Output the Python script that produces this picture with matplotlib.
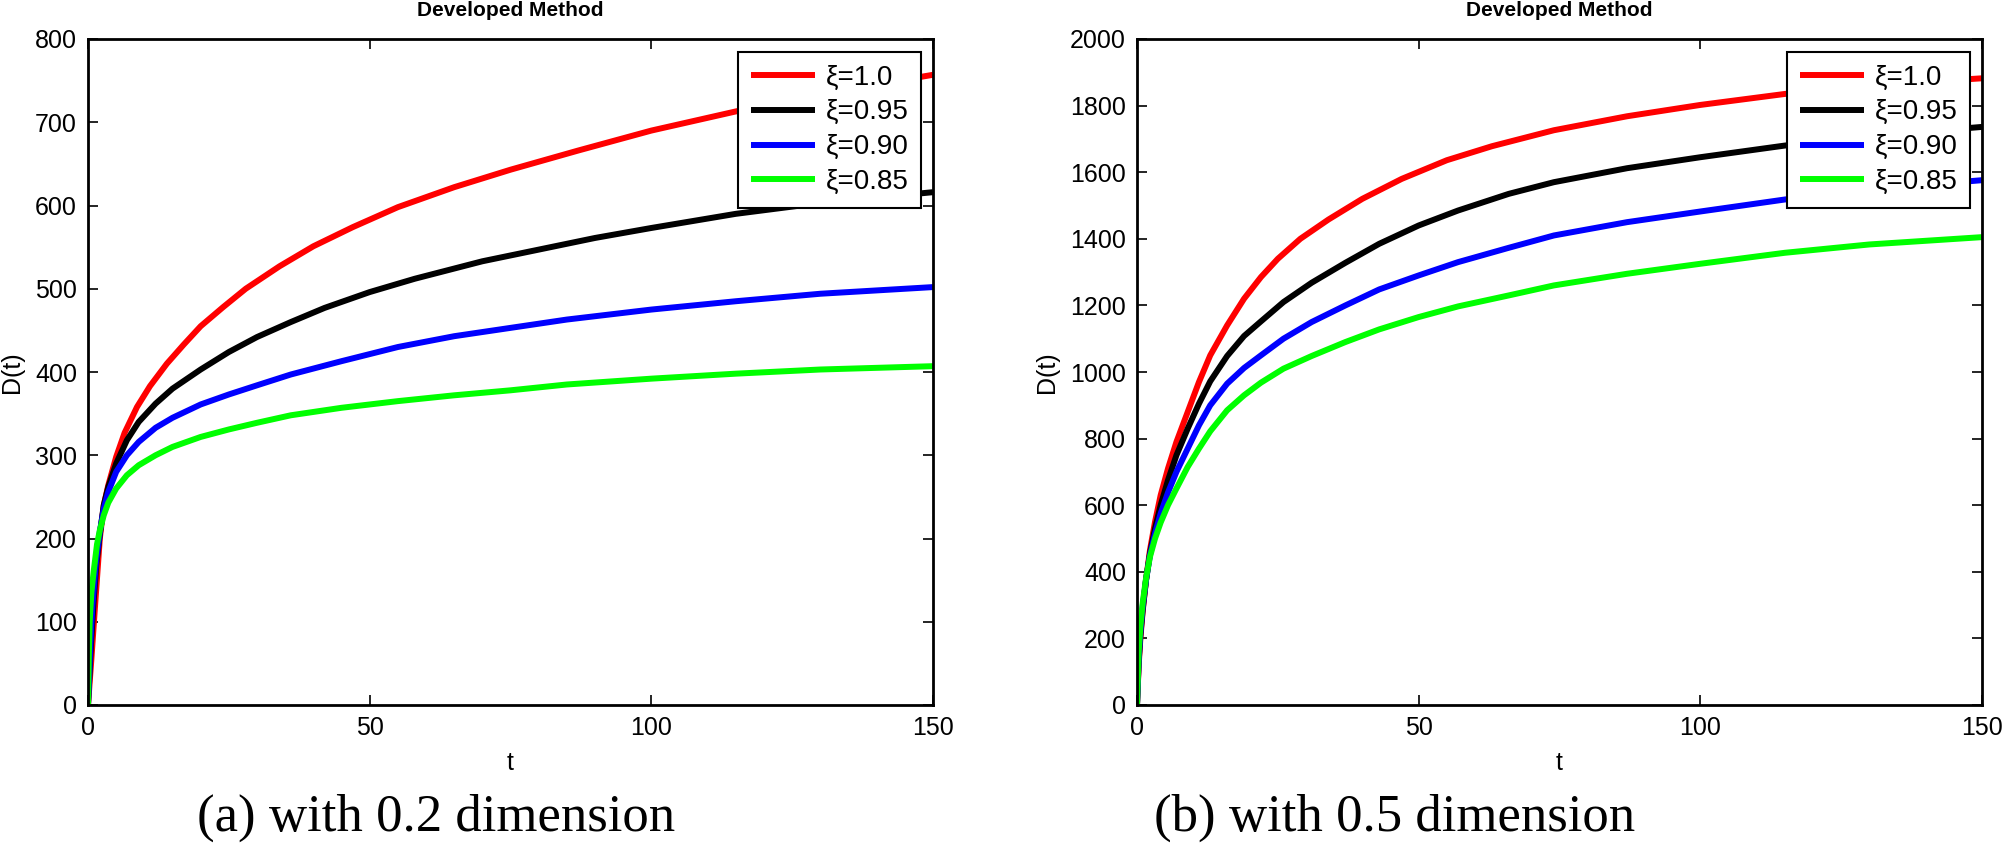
import matplotlib
matplotlib.use("Agg")
import matplotlib.pyplot as plt

# series: (t, D(t)) for each xi
labels = ['\u03be=1.0', '\u03be=0.95', '\u03be=0.90', '\u03be=0.85']
colors = ['#ff0000', '#000000', '#0000ff', '#00ff00']

# (a) with 0.2 dimension
t_red_a = [0, 0.6, 1.2, 2.1, 2.8, 3.6, 5, 6.5, 8.7, 11, 14, 17, 20, 24, 28, 34, 40, 47, 55,
           65, 75, 87, 100, 115, 130, 150]
d_red_a = [0, 55, 114, 200, 240, 264, 298, 327, 358, 383, 410, 433, 455, 478, 500, 527, 551,
           574, 598, 622, 643, 666, 690, 713, 734, 757]
t_blk_a = [0, 0.5, 1, 1.5, 2.1, 2.8, 3.6, 5, 6.9, 9, 12, 15, 20, 25, 30, 36, 42, 50, 58,
           70, 80, 90, 100, 115, 130, 150]
d_blk_a = [0, 70, 125, 170, 205, 240, 262, 290, 318, 340, 362, 380, 403, 424, 442, 460, 477,
           496, 512, 533, 547, 561, 573, 590, 603, 616]
t_blu_a = [0, 0.4, 0.8, 1.4, 2.1, 2.8, 3.6, 5, 6.9, 9, 12, 15, 20, 25, 30, 36, 45, 55, 65,
           75, 85, 100, 115, 130, 150]
d_blu_a = [0, 70, 120, 170, 208, 236, 256, 280, 300, 316, 333, 345, 361, 373, 384, 397, 413,
           430, 443, 453, 463, 475, 485, 494, 502]
t_grn_a = [0, 0.15, 0.3, 0.6, 1, 1.6, 2.1, 2.8, 3.6, 5, 6.9, 9, 12, 15, 20, 25, 30, 36, 45,
           55, 65, 75, 85, 100, 115, 130, 150]
d_grn_a = [0, 60, 100, 135, 160, 193, 210, 228, 243, 260, 276, 288, 300, 310, 322, 331, 339,
           348, 357, 365, 372, 378, 385, 392, 398, 403, 407]

# (b) with 0.5 dimension
t_red_b = [0, 0.3, 0.6, 1, 1.6, 2.3, 3.2, 4.2, 5.5, 7, 9, 11, 13, 16, 19, 22, 25, 29, 34, 40,
           47, 55, 63, 74, 87, 100, 115, 130, 150]
d_red_b = [0, 120, 200, 280, 375, 465, 550, 630, 710, 790, 880, 970, 1050, 1140, 1220, 1285,
           1340, 1400, 1458, 1520, 1580, 1636, 1678, 1726, 1768, 1802, 1835, 1860, 1882]
t_blk_b = [0, 0.3, 0.6, 1, 1.6, 2.3, 3.2, 4.2, 5.5, 7, 9, 11, 13, 16, 19, 22, 26, 31, 37, 43,
           50, 57, 66, 74, 87, 100, 115, 130, 150]
d_blk_b = [0, 130, 210, 285, 375, 455, 530, 600, 675, 750, 830, 905, 972, 1048, 1108, 1152,
           1210, 1268, 1328, 1385, 1440, 1485, 1535, 1570, 1612, 1645, 1680, 1708, 1736]
t_blu_b = [0, 0.3, 0.6, 1, 1.6, 2.3, 3.2, 4.2, 5.5, 7, 9, 11, 13, 16, 19, 22, 26, 31, 37, 43,
           50, 57, 66, 74, 87, 100, 115, 130, 150]
d_blu_b = [0, 140, 220, 295, 375, 450, 515, 575, 638, 700, 770, 840, 900, 965, 1012, 1050,
           1100, 1150, 1200, 1248, 1290, 1330, 1373, 1410, 1450, 1482, 1518, 1548, 1576]
t_grn_b = [0, 0.3, 0.6, 1, 1.6, 2.3, 3.2, 4.2, 5.5, 7, 9, 11, 13, 16, 19, 22, 26, 31, 37, 43,
           50, 57, 66, 74, 87, 100, 115, 130, 150]
d_grn_b = [0, 160, 235, 305, 380, 445, 500, 548, 600, 650, 715, 770, 822, 885, 930, 968,
           1010, 1048, 1090, 1128, 1165, 1197, 1230, 1260, 1295, 1325, 1358, 1383, 1405]

panels = [
    dict(ts=[t_red_a, t_blk_a, t_blu_a, t_grn_a], ds=[d_red_a, d_blk_a, d_blu_a, d_grn_a],
         ymax=800, ystep=100, caption='(a) with 0.2 dimension'),
    dict(ts=[t_red_b, t_blk_b, t_blu_b, t_grn_b], ds=[d_red_b, d_blk_b, d_blu_b, d_grn_b],
         ymax=2000, ystep=200, caption='(b) with 0.5 dimension'),
]
xticks = [0, 50, 100, 150]

W, H = 2004, 850
fig = plt.figure(figsize=(W / 100, H / 100), dpi=100)
plt.rcParams['font.family'] = ['Liberation Sans', 'DejaVu Sans']

ax_left_px = [88, 1137]
ax_w, ax_top, ax_bot = 845, 39, 705
ylabel_x = [12, 1047]
caption_x = [436, 1395]

for k, p in enumerate(panels):
    ax = fig.add_axes([ax_left_px[k] / W, (H - ax_bot) / H, ax_w / W, (ax_bot - ax_top) / H])
    for t, d, c, lab in zip(p['ts'], p['ds'], colors, labels):
        ax.plot(t, d, color=c, lw=4.3, label=lab, solid_joinstyle='round',
                solid_capstyle='butt')
    ax.set_xlim(0, 150)
    ax.set_ylim(0, p['ymax'])
    ax.set_xticks(xticks)
    ax.set_yticks(range(0, p['ymax'] + 1, p['ystep']))
    ax.tick_params(direction='in', length=7, width=1.2, labelsize=18,
                   top=True, right=True, pad=8)
    for s in ax.spines.values():
        s.set_linewidth(2)
    ax.text(0.5, -(763 - ax_bot) / (ax_bot - ax_top), 't', transform=ax.transAxes,
            ha='center', va='center', fontsize=18)
    ax.text((ylabel_x[k] - ax_left_px[k]) / ax_w, 0.5, 'D(t)', transform=ax.transAxes,
            ha='center', va='center', rotation=90, fontsize=18)
    ax.text(0.5, 1 + (ax_top - 11) / (ax_bot - ax_top), 'Developed Method',
            transform=ax.transAxes, ha='center', va='center', fontsize=15, fontweight='bold')
    leg = ax.legend(loc='upper right', bbox_to_anchor=(0.9858, 0.9805), borderaxespad=0,
                    fontsize=20, fancybox=False, framealpha=1, edgecolor='black',
                    handlelength=2.3, handletextpad=0.4, labelspacing=0.32, borderpad=0.45)
    leg.get_frame().set_linewidth(1.5)
    fig.text(caption_x[k] / W, 1 - 818 / H, p['caption'], ha='center', va='center',
             fontsize=38, family='Liberation Serif')

fig.savefig('out.png', dpi=100)
